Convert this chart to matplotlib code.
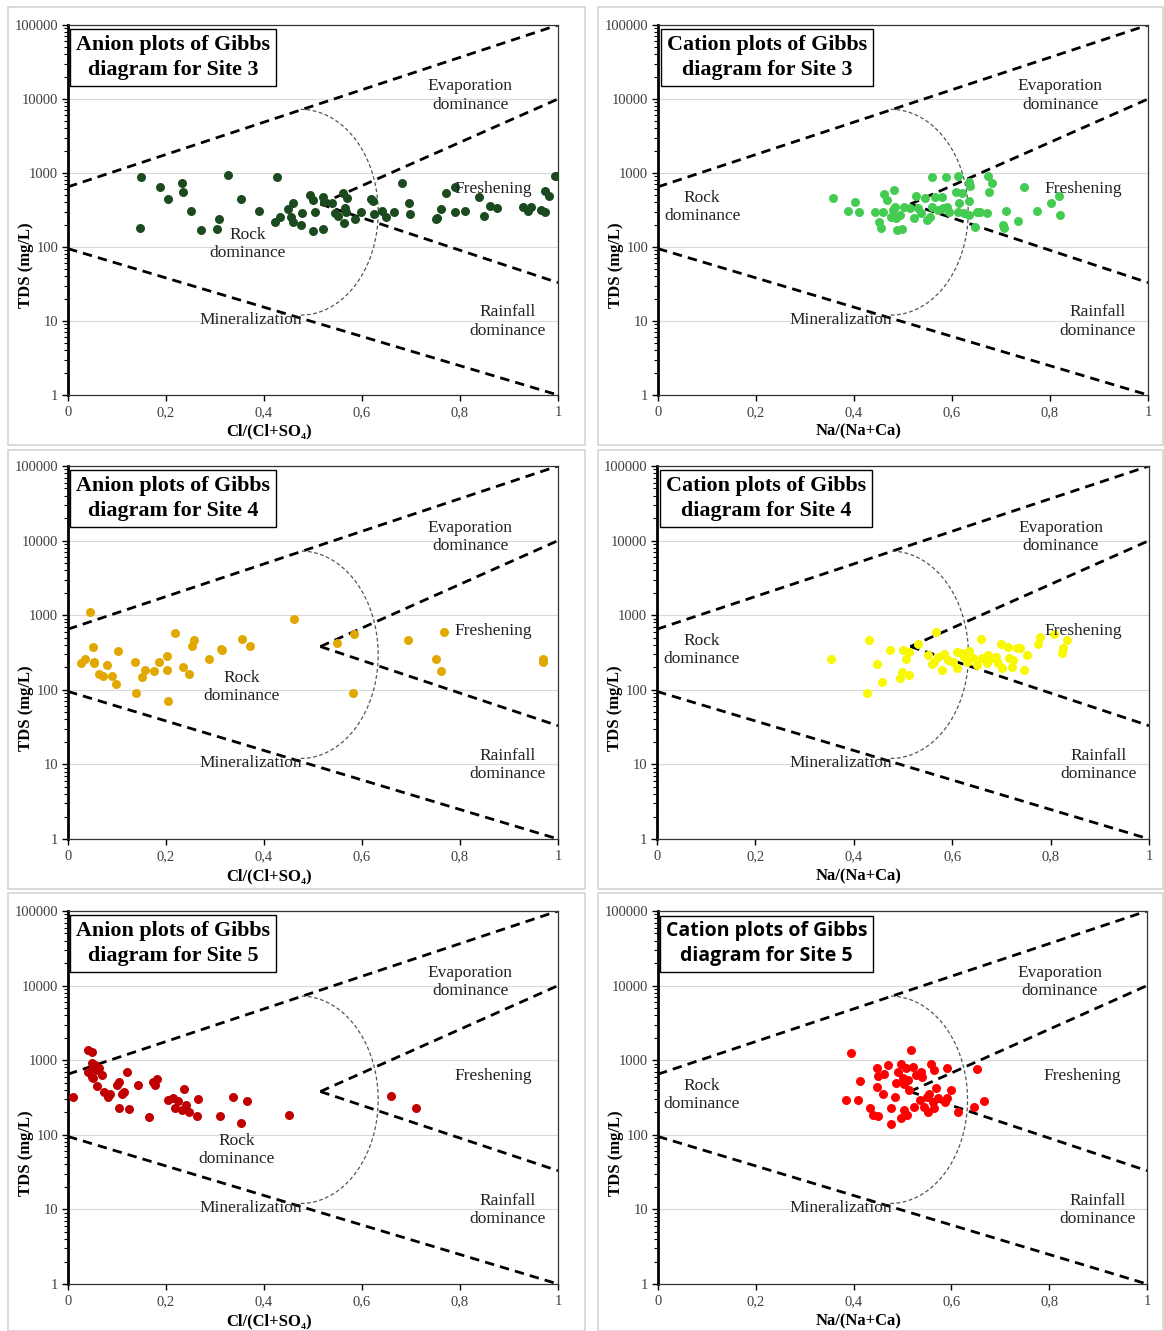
import numpy as np
import matplotlib
matplotlib.use("Agg")
import matplotlib.pyplot as plt
import matplotlib.ticker as mticker
from matplotlib.patches import Rectangle

plt.rcParams['font.family'] = ['Liberation Serif', 'DejaVu Serif']

# ── data (x ratio, TDS mg/L) ────────────────────────────────────────────────
anion3_x = [0.149, 0.147, 0.188, 0.205, 0.232, 0.234, 0.251, 0.271, 0.305, 0.309,
            0.327, 0.354, 0.390, 0.426, 0.422, 0.433, 0.448, 0.459, 0.456, 0.459,
            0.477, 0.476, 0.494, 0.501, 0.504, 0.499, 0.520, 0.523, 0.521, 0.538,
            0.545, 0.550, 0.561, 0.569, 0.565, 0.567, 0.563, 0.586, 0.597, 0.618,
            0.623, 0.624, 0.641, 0.648, 0.666, 0.681, 0.696, 0.698, 0.751, 0.754,
            0.761, 0.771, 0.790, 0.790, 0.810, 0.839, 0.849, 0.861, 0.875, 0.929,
            0.938, 0.945, 0.965, 0.973, 0.973, 0.982, 0.994, 0.999]
anion3_tds = [875, 182, 653, 446, 740, 558, 310, 170, 175, 239,
              940, 446, 310, 875, 220, 252, 323, 389, 257, 220,
              285, 198, 505, 432, 294, 164, 479, 409, 175, 397,
              285, 262, 532, 464, 333, 294, 213, 237, 300, 442,
              419, 279, 306, 257, 300, 726, 389, 277, 239, 249,
              323, 542, 653, 300, 306, 479, 265, 361, 333, 344,
              310, 344, 316, 300, 577, 489, 910, 900]

cation3_x = [0.358, 0.388, 0.402, 0.411, 0.443, 0.450, 0.455, 0.460, 0.462, 0.467,
             0.482, 0.476, 0.480, 0.484, 0.485, 0.487, 0.498, 0.494, 0.503, 0.514,
             0.523, 0.526, 0.531, 0.537, 0.545, 0.548, 0.555, 0.559, 0.560, 0.566,
             0.571, 0.579, 0.582, 0.588, 0.589, 0.593, 0.608, 0.612, 0.615, 0.613,
             0.620, 0.624, 0.634, 0.637, 0.635, 0.635, 0.646, 0.650, 0.657, 0.672,
             0.674, 0.681, 0.676, 0.705, 0.706, 0.710, 0.734, 0.746, 0.774, 0.803,
             0.819, 0.820]
cation3_tds = [455, 310, 409, 300, 300, 220, 179, 300, 515, 432,
               589, 257, 316, 351, 245, 170, 173, 270, 351, 333,
               245, 489, 333, 290, 455, 232, 252, 891, 351, 479,
               316, 479, 333, 891, 351, 300, 558, 920, 389, 294,
               532, 290, 764, 666, 423, 270, 188, 300, 300, 291,
               920, 740, 548, 198, 182, 310, 224, 653, 310, 397,
               489, 270]

anion4_x = [0.044, 0.027, 0.034, 0.052, 0.053, 0.054, 0.063, 0.071, 0.079, 0.089,
            0.098, 0.103, 0.136, 0.138, 0.151, 0.158, 0.175, 0.185, 0.202, 0.202,
            0.205, 0.219, 0.234, 0.247, 0.253, 0.258, 0.287, 0.313, 0.315, 0.355,
            0.372, 0.462, 0.549, 0.583, 0.581, 0.693, 0.750, 0.762, 0.767, 0.969,
            0.969]
anion4_tds = [1094, 231, 257, 372, 238, 226, 161, 153, 215, 153,
              119, 334, 238, 91, 147, 184, 179, 238, 184, 286,
              71, 582, 204, 163, 390, 465, 257, 352, 342, 480,
              390, 881, 427, 560, 91, 465, 257, 179, 601, 257,
              238]

cation4_x = [0.354, 0.426, 0.431, 0.448, 0.457, 0.474, 0.494, 0.497, 0.499, 0.506,
             0.513, 0.513, 0.530, 0.568, 0.551, 0.558, 0.562, 0.572, 0.579, 0.583,
             0.592, 0.601, 0.609, 0.610, 0.619, 0.624, 0.634, 0.630, 0.643, 0.650,
             0.659, 0.660, 0.670, 0.673, 0.680, 0.689, 0.694, 0.699, 0.701, 0.714,
             0.716, 0.721, 0.724, 0.732, 0.738, 0.745, 0.753, 0.775, 0.778, 0.823,
             0.826, 0.806, 0.833]
cation4_tds = [257, 92, 465, 220, 129, 342, 143, 175, 342, 257,
               324, 158, 408, 601, 293, 220, 238, 278, 184, 302,
               251, 238, 324, 198, 308, 278, 331, 238, 264, 215,
               480, 264, 226, 293, 269, 278, 226, 408, 194, 379,
               269, 204, 251, 360, 360, 184, 293, 408, 515, 308,
               360, 555, 465]

anion5_x = [0.010, 0.041, 0.048, 0.048, 0.041, 0.052, 0.055, 0.060, 0.048, 0.064,
            0.069, 0.052, 0.060, 0.074, 0.082, 0.086, 0.105, 0.099, 0.105, 0.110,
            0.115, 0.121, 0.124, 0.143, 0.165, 0.173, 0.181, 0.178, 0.205, 0.215,
            0.218, 0.225, 0.237, 0.232, 0.241, 0.247, 0.264, 0.266, 0.310, 0.336,
            0.354, 0.365, 0.450, 0.659, 0.710]
anion5_tds = [324, 1371, 1276, 908, 702, 779, 862, 740, 603, 779,
              634, 571, 451, 371, 324, 349, 231, 465, 505, 349,
              378, 702, 222, 465, 171, 515, 560, 465, 293, 314,
              226, 284, 408, 215, 251, 204, 179, 299, 179, 324,
              143, 286, 184, 334, 231]

cation5_x = [0.394, 0.518, 0.385, 0.408, 0.414, 0.433, 0.439, 0.450, 0.448, 0.450,
             0.448, 0.460, 0.462, 0.470, 0.476, 0.476, 0.484, 0.486, 0.490, 0.496,
             0.501, 0.503, 0.496, 0.504, 0.508, 0.512, 0.510, 0.514, 0.521, 0.524,
             0.528, 0.537, 0.539, 0.535, 0.543, 0.550, 0.552, 0.559, 0.564, 0.555,
             0.562, 0.565, 0.569, 0.572, 0.586, 0.591, 0.592, 0.599, 0.614, 0.647,
             0.652, 0.666]
cation5_tds = [1262, 1371, 293, 293, 531, 226, 184, 179, 779, 620,
               442, 349, 647, 862, 138, 231, 324, 490, 702, 881,
               582, 215, 170, 475, 779, 543, 184, 399, 818, 238,
               634, 702, 601, 293, 238, 324, 204, 881, 740, 349,
               278, 231, 427, 308, 278, 795, 314, 399, 200, 238,
               762, 284]

# Gibbs boundary lines (x ends, TDS ends) and the dashed arc (centre, radii)
bound_x = [[0, 1], [0.515, 1], [0.515, 1], [0, 1]]
bound_tds = [[650, 100000], [380, 10000], [380, 33], [95, 1]]
arc_centre = (0.475, 295)
arc_radius = (0.158, 1.39)   # x units, decades

x_ticks = [0, 0.2, 0.4, 0.6, 0.8, 1]
y_ticks = [1, 10, 100, 1000, 10000, 100000]

W, H = 1164, 1331
fig = plt.figure(figsize=(W / 100, H / 100), dpi=100)


def px_rect(x0, y0, x1, y1):
    return [x0 / W, 1 - y1 / H, (x1 - x0) / W, (y1 - y0) / H]


panels = [
    dict(ax=(68, 25, 558, 395), frame=(8, 7, 585, 445), kind="Anion", site=3,
         x=anion3_x, y=anion3_tds, color="#1b4a1f", rock=(0.367, 110)),
    dict(ax=(658, 25, 1148, 395), frame=(598, 7, 1163, 445), kind="Cation", site=3,
         x=cation3_x, y=cation3_tds, color="#44cc52", rock=(0.09, 350)),
    dict(ax=(68, 466, 558, 839), frame=(8, 450, 585, 889), kind="Anion", site=4,
         x=anion4_x, y=anion4_tds, color="#e0a800", rock=(0.355, 110)),
    dict(ax=(657, 466, 1149, 839), frame=(598, 450, 1163, 889), kind="Cation", site=4,
         x=cation4_x, y=cation4_tds, color="#f8f800", rock=(0.09, 340)),
    dict(ax=(68, 911, 558, 1284), frame=(8, 893, 585, 1331), kind="Anion", site=5,
         x=anion5_x, y=anion5_tds, color="#c00000", rock=(0.345, 63)),
    dict(ax=(658, 911, 1147, 1284), frame=(598, 893, 1163, 1331), kind="Cation", site=5,
         x=cation5_x, y=cation5_tds, color="#ff0000", rock=(0.09, 340)),
]

for p in panels:
    # light grey panel frame
    fx0, fy0, fx1, fy1 = p["frame"]
    fig.patches.append(Rectangle((fx0 / W, 1 - fy1 / H), (fx1 - fx0) / W, (fy1 - fy0) / H,
                                 transform=fig.transFigure, fill=False,
                                 ec="#d4d4d4", lw=1.2, zorder=0))

    ax = fig.add_axes(px_rect(*p["ax"]))
    ax.set_yscale("log")
    ax.set_xlim(0, 1)
    ax.set_ylim(1, 100000)

    ax.grid(axis="y", which="major", color="#d9d9d9", lw=0.8, zorder=0)

    # boundary lines
    for bx, by in zip(bound_x, bound_tds):
        ax.plot(bx, by, color="black", lw=2, linestyle=(0, (3.4, 2.2)), zorder=2)

    # dashed arc
    t = np.linspace(-np.pi / 2, np.pi / 2, 200)
    arc_x = arc_centre[0] + arc_radius[0] * np.cos(t)
    arc_y = 10 ** (np.log10(arc_centre[1]) + arc_radius[1] * np.sin(t))
    ax.plot(arc_x, arc_y, color="#555555", lw=0.9, linestyle=(0, (3, 2)), zorder=2)

    ax.scatter(p["x"], p["y"], s=42, color=p["color"], linewidths=0, zorder=3)

    # region labels
    lab = dict(fontsize=12.5, ha="center", va="center", color="#222222", zorder=4)
    ax.text(0.821, 11200, "Evaporation\ndominance", **lab)
    ax.text(0.867, 610, "Freshening", **lab)
    ax.text(p["rock"][0], p["rock"][1], "Rock\ndominance", **lab)
    ax.text(0.373, 10.3, "Mineralization", **lab)
    ax.text(0.898, 9.8, "Rainfall\ndominance", **lab)

    # title box
    title = f"{p['kind']} plots of Gibbs\ndiagram for Site {p['site']}"
    if p["kind"] == "Cation" and p["site"] == 5:
        tfont = dict(family=["Open Sans", "DejaVu Sans"], fontsize=14)
    else:
        tfont = dict(fontsize=15.8)
    ax.text(0.222 if p["kind"] == "Cation" else 0.215, 0.972, title, transform=ax.transAxes,
            ha="center", va="top", multialignment="center", fontweight="bold",
            linespacing=1.32, zorder=5,
            bbox=dict(boxstyle="square,pad=0.28", fc="white", ec="black", lw=1.0),
            **tfont)

    # axes styling
    ax.set_xticks(x_ticks)
    ax.xaxis.set_major_formatter(mticker.FuncFormatter(lambda v, _: f"{v:g}".replace(".", ",")))
    ax.set_yticks(y_ticks)
    ax.yaxis.set_major_formatter(mticker.FuncFormatter(lambda v, _: f"{v:.0f}"))
    ax.yaxis.set_minor_locator(mticker.LogLocator(base=10, subs=np.arange(2, 10)))
    ax.yaxis.set_minor_formatter(mticker.NullFormatter())
    ax.tick_params(axis="both", which="major", labelsize=10.5, labelcolor="#404040",
                   direction="out", length=4, width=1)
    ax.tick_params(axis="y", which="minor", direction="out", length=3, width=0.8)
    ax.tick_params(axis="y", pad=3)
    ax.tick_params(axis="x", pad=4)
    ax.spines["left"].set_linewidth(2)
    for s in ["top", "right", "bottom"]:
        ax.spines[s].set_linewidth(0.9)
        ax.spines[s].set_color("#333333")

    xl = "Cl/(Cl+SO₄)" if p["kind"] == "Anion" else "Na/(Na+Ca)"
    ax.set_xlabel(xl, fontsize=12, fontweight="bold")
    ax.xaxis.set_label_coords(0.41, -0.078)
    ax.set_ylabel("TDS (mg/L)", fontsize=12, fontweight="bold")
    ax.yaxis.set_label_coords(-0.07, 0.35)

fig.savefig("out.png", dpi=100, facecolor="white")
